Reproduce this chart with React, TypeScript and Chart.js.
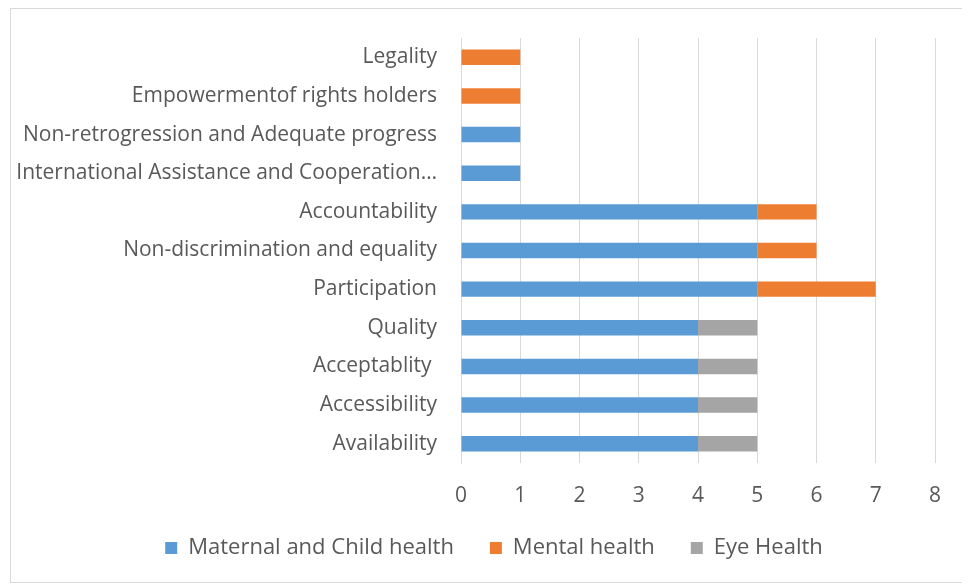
import React, { useEffect, useRef } from "react";
import { Chart, registerables } from "chart.js";
Chart.register(...registerables);

const categories = [
  "Legality",
  "Empowermentof rights holders",
  "Non-retrogression and Adequate progress",
  "International Assistance and Cooperation…",
  "Accountability",
  "Non-discrimination and equality",
  "Participation",
  "Quality",
  "Acceptablity ",
  "Accessibility",
  "Availability",
];
const seriesNames = ["Maternal and Child health", "Mental health", "Eye Health"];
const maternal = [0, 0, 1, 1, 5, 5, 5, 4, 4, 4, 4];
const mental = [1, 1, 0, 0, 1, 1, 2, 0, 0, 0, 0];
const eye = [0, 0, 0, 0, 0, 0, 0, 1, 1, 1, 1];
const colors = ["#5b9bd5", "#ed7d31", "#a5a5a5"];
const xMin = 0;
const xMax = 8;

const FONT = "'Open Sans', sans-serif";

const layoutTweakPlugin = {
  id: "layoutTweak",
  afterLayout(chart: any) {
    const x = chart.scales.x;
    if (x) x.bottom = x.top + 80;
    const lg = chart.legend;
    if (lg) {
      lg.left += 21;
      lg.right += 21;
    }
  },
};

export default function App() {
  const ref = useRef<HTMLCanvasElement | null>(null);
  useEffect(() => {
    if (!ref.current) return;
    const values = [maternal, mental, eye];
    const chart = new Chart(ref.current, {
      type: "bar",
      data: {
        labels: categories,
        datasets: seriesNames.map((n, i) => ({
          label: n,
          data: values[i],
          backgroundColor: colors[i],
          borderWidth: 0,
          barPercentage: 1,
          categoryPercentage: 0.4,
        })),
      },
      plugins: [layoutTweakPlugin],
      options: {
        indexAxis: "y",
        animation: false,
        responsive: false,
        maintainAspectRatio: false,
        layout: { padding: { top: 29, right: 31, bottom: 13, left: 0 } },
        plugins: {
          tooltip: { enabled: false },
          legend: {
            position: "bottom",
            labels: {
              boxWidth: 12,
              boxHeight: 12,
              padding: 36,
              color: "#595959",
              font: { family: FONT, size: 22 },
            },
          },
        },
        scales: {
          x: {
            stacked: true,
            min: xMin,
            max: xMax,
            ticks: { stepSize: 1, color: "#595959", font: { family: FONT, size: 21 }, padding: 20 },
            grid: { color: "#d9d9d9", drawTicks: false },
            border: { display: false },
            afterFit: (s: any) => {
              s.height = 38;
            },
          },
          y: {
            stacked: true,
            ticks: { color: "#595959", font: { family: FONT, size: 21 }, padding: 16, autoSkip: false },
            grid: { display: false },
            border: { display: true, color: "#d9d9d9" },
            afterFit: (s: any) => {
              s.width = 450;
            },
          },
        },
      },
    });
    return () => chart.destroy();
  }, []);
  return (
    <div
      style={{
        marginLeft: 2,
        width: 957,
        height: 575,
        border: "1px solid #d9d9d9",
        boxSizing: "border-box",
      }}
    >
      <canvas ref={ref} width={955} height={573} style={{ display: "block" }} />
    </div>
  );
}
